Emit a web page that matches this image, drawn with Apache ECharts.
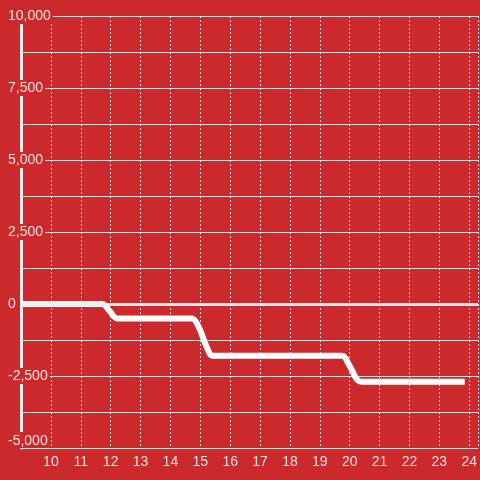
<!DOCTYPE html>
<html>
<head>
<meta charset="utf-8">
<script src="https://cdn.jsdelivr.net/npm/echarts@6/dist/echarts.min.js"></script>
<style>
  html, body { margin: 0; padding: 0; background: #cc292d; }
  #show { width: 480px; height: 480px; }
</style>
</head>
<body>
<div id="show"></div>
<script>
var myChart = echarts.init(document.getElementById("show"));

// hour of day
var hours = [9, 11.72, 11.97, 12.22, 14.72, 14.95, 15.2, 15.42, 19.75, 20.0, 20.38, 23.85];
// running balance
var values = [0, 0, -250, -500, -500, -800, -1450, -1800, -1800, -2150, -2700, -2700];

var bg = '#cc292d';
var textColor = '#f3e4e4';

var points = hours.map(function (h, i) { return [h, values[i]]; });

function fmt(v) {
    return String(v).replace(/\B(?=(\d{3})+(?!\d))/g, ',');
}

myChart.setOption(option = {
    backgroundColor: bg,
    animation: false,
    grid: {
        left: 21,
        right: 0,
        top: 16,
        bottom: 32
    },
    xAxis: {
        type: 'value',
        min: 9,
        max: 24.3,
        interval: 1,
        axisLine: {show: false},
        axisTick: {show: false},
        axisLabel: {
            color: textColor,
            fontFamily: 'Liberation Sans',
            fontSize: 14,
            margin: 7,
            showMinLabel: false,
            showMaxLabel: false
        },
        splitLine: {
            show: true,
            lineStyle: {color: '#e6e6e6', width: 1, type: [2, 2]}
        }
    },
    yAxis: {
        type: 'value',
        min: -5000,
        max: 10000,
        interval: 2500,
        axisLine: {
            show: true,
            onZero: false,
            lineStyle: {color: '#eeeeee', width: 3}
        },
        axisTick: {show: false},
        axisLabel: {
            color: textColor,
            fontFamily: 'Liberation Sans',
            fontSize: 14,
            lineHeight: 12,
            align: 'left',
            margin: 15,
            backgroundColor: bg,
            padding: [3, 2, 1, 2],
            verticalAlignMinLabel: 'bottom',
            formatter: fmt
        },
        splitLine: {
            show: true,
            lineStyle: {color: '#d6d6d6', width: 1}
        },
        minorTick: {show: false, splitNumber: 2},
        minorSplitLine: {
            show: true,
            lineStyle: {color: '#d6d6d6', width: 1}
        }
    },
    series: [
        {
            type: 'line',
            data: points,
            showSymbol: false,
            smooth: 0.3,
            lineStyle: {color: '#ffffff', width: 6, join: 'round', cap: 'butt'},
            markLine: {
                silent: true,
                symbol: 'none',
                label: {show: false},
                lineStyle: {color: '#eeeeee', width: 3, type: 'solid'},
                data: [{yAxis: 0}]
            },
            z: 3
        }
    ]
});
</script>
</body>
</html>
